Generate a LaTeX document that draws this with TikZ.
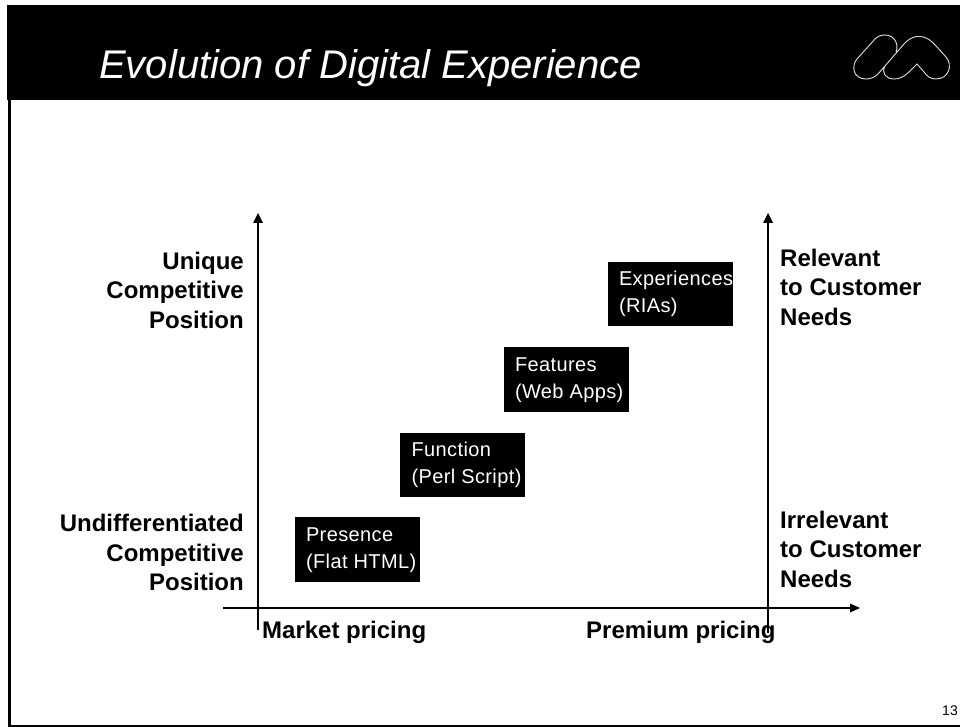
\documentclass[tikz,border=0pt]{standalone}
\usepackage{fontspec}
\setmainfont{Liberation Sans}
\newcommand\bxa[1]{\makebox[102pt][l]{\rule{0pt}{14.5pt}#1}}
\newcommand\bxb[1]{\makebox[102pt][l]{#1}}
\begin{document}
\begin{tikzpicture}[x=1pt,y=-1pt,
  lab/.style={font=\fontsize{24}{29.5}\selectfont\bfseries,inner sep=0pt},
  leftlab/.style={lab,align=right,anchor=north east},
  rightlab/.style={lab,align=left,anchor=north west},
  blackbox/.style={fill=black,text=white,inner sep=0pt,minimum width=125pt,minimum height=64.5pt,
     align=left,font=\fontsize{20}{27}\selectfont\addfontfeatures{LetterSpace=2}},
  axisline/.style={draw=black,line width=1.3pt},
  tip/.style={fill=black,draw=none}]
\useasboundingbox (0,0) rectangle (960,727);
\fill[white] (0,0) rectangle (960,727);
% frame and header
\fill[black] (7,5.5) rectangle (960,100.5);
\draw[black,line width=3pt] (9,100) -- (9,725.5);
\draw[black,line width=2pt] (7.5,725.8) -- (960,725.8);
\node[anchor=base west,inner sep=0pt,text=white,font=\fontsize{40}{44}\selectfont\itshape] (title) at (99,79) {Evolution of Digital Experience};
% logo
\draw[white!88!black,line width=0.9pt] (896,52) .. controls (899,45) and (895,35) .. (885,35)
  .. controls (880,35) and (877,37) .. (875,39) -- (857,59)
  .. controls (851,66) and (853,79) .. (866,79)
  .. controls (871,79) and (875,77) .. (878,74) -- (904,44)
  .. controls (911,36) and (919,35) .. (926,38)
  .. controls (931,40) and (934,44) .. (937,47) -- (946,57)
  .. controls (953,65) and (949,79) .. (936,79)
  .. controls (930,79) and (927,76) .. (924,72) -- (917,64) -- (909,72)
  .. controls (904,77) and (899,79) .. (894,79)
  .. controls (886,79) and (881,73) .. (885,66);
% axes
\coordinate (yAbot) at (258,630);
\coordinate (yAtop) at (258,222);
\coordinate (yBbot) at (768,633);
\coordinate (yBtop) at (768,222);
\coordinate (xAl) at (223,608);
\coordinate (xAr) at (851,608);
\draw[axisline] (yAbot) -- (yAtop);
\draw[axisline] (yBbot) -- (yBtop);
\draw[axisline] (xAl) -- (xAr);
\fill[tip] (258,213) -- (253,223) -- (263,223) -- cycle;
\fill[tip] (768,213) -- (763,223) -- (773,223) -- cycle;
\fill[tip] (860,608) -- (850,603.5) -- (850,612.5) -- cycle;
% boxes
\node[blackbox] (pres) at (357,549.5) {\bxa{Presence}\\\bxb{(Flat HTML)}};
\node[blackbox] (func) at (462.5,465) {\bxa{Function}\\\bxb{(Perl Script)}};
\node[blackbox] (feat) at (566,379.5) {\bxa{Features}\\\bxb{(Web Apps)}};
\node[blackbox] (expe) at (670,294) {\bxa{Experiences}\\\bxb{(RIAs)}};
% labels
\node[leftlab] (ltop) at (244,251.5) {Unique\\Competitive\\Position};
\node[leftlab] (lbot) at (244,514) {Undifferentiated\\Competitive\\Position};
\node[rightlab] (rtop) at (780,248.5) {Relevant\\to Customer\\Needs};
\node[rightlab] (rbot) at (780,510.5) {Irrelevant\\to Customer\\Needs};
\node[lab,anchor=base west] (mkt) at (262,638) {Market pricing};
\node[lab,anchor=base west] (prem) at (586,638) {Premium pricing};
\node[anchor=base east,inner sep=0pt,font=\fontsize{14}{16}\selectfont] (pg) at (958,715) {13};
\end{tikzpicture}
\end{document}
